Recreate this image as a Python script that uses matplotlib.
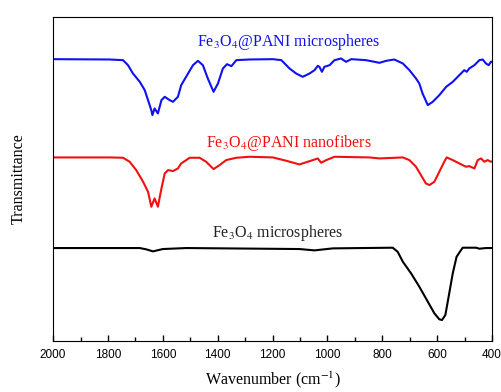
"""FTIR spectra: Fe3O4, Fe3O4@PANI nanofibers, Fe3O4@PANI microspheres"""
import numpy as np
import matplotlib
matplotlib.use('Agg')
import matplotlib.pyplot as plt
from matplotlib.ticker import MultipleLocator

plt.rcParams['font.family'] = ['Liberation Serif', 'DejaVu Serif']
plt.rcParams['mathtext.fontset'] = 'stix'

# ── data (wavenumber cm-1, transmittance a.u., curves already stacked) ──
wn_blue = [2000, 1794, 1745, 1727, 1709, 1684, 1666, 1654, 1642, 1638, 1630,
           1618, 1605, 1593, 1575, 1563, 1545, 1533, 1508, 1490, 1472, 1454,
           1436, 1415, 1399, 1381, 1366, 1350, 1332, 1284, 1199, 1168, 1138,
           1114, 1090, 1065, 1047, 1035, 1029, 1020, 1011, 992, 974, 950, 932,
           913, 859, 822, 810, 786, 756, 725, 701, 677, 665, 653, 634, 616,
           592, 567, 543, 519, 501, 492, 483, 464, 446, 434, 422, 412, 404, 400]
t_blue = [8.45, 8.44, 8.42, 8.27, 8.02, 7.77, 7.52, 7.22, 6.92, 6.77, 6.97,
          6.82, 7.22, 7.32, 7.22, 7.17, 7.32, 7.67, 8.02, 8.27, 8.40, 8.27,
          7.87, 7.47, 7.72, 8.17, 8.30, 8.24, 8.42, 8.44, 8.45, 8.42, 8.17,
          8.02, 7.92, 8.02, 8.12, 8.25, 8.22, 8.07, 8.22, 8.27, 8.42, 8.47,
          8.37, 8.45, 8.42, 8.36, 8.34, 8.40, 8.44, 8.32, 8.12, 7.87, 7.72,
          7.42, 7.07, 7.17, 7.37, 7.62, 7.77, 7.97, 8.12, 8.07, 8.17, 8.27,
          8.42, 8.44, 8.32, 8.27, 8.37, 8.37]

wn_red = [2000, 1794, 1745, 1721, 1697, 1672, 1654, 1642, 1630, 1618, 1605,
          1593, 1581, 1563, 1545, 1533, 1502, 1466, 1442, 1415, 1393, 1369,
          1332, 1284, 1199, 1150, 1102, 1053, 1035, 1023, 1004, 974, 847, 810,
          725, 701, 677, 659, 641, 628, 610, 592, 574, 565, 543, 519, 495,
          483, 464, 452, 440, 428, 416, 404, 400]
t_red = [5.50, 5.50, 5.49, 5.37, 5.12, 4.77, 4.47, 4.02, 4.27, 4.02, 4.57,
         5.02, 5.12, 5.09, 5.17, 5.32, 5.49, 5.49, 5.37, 5.15, 5.27, 5.42,
         5.49, 5.52, 5.50, 5.40, 5.29, 5.42, 5.47, 5.34, 5.42, 5.52, 5.50,
         5.47, 5.50, 5.42, 5.22, 4.97, 4.72, 4.67, 4.77, 5.07, 5.37, 5.50,
         5.42, 5.32, 5.22, 5.24, 5.17, 5.42, 5.47, 5.37, 5.42, 5.37, 5.38]

wn_black = [2000, 1684, 1660, 1636, 1600, 1514, 1102, 1047, 980, 762, 744,
            725, 695, 665, 634, 610, 592, 582, 570, 558, 543, 529, 507, 458,
            446, 422, 404, 400]
t_black = [2.78, 2.78, 2.74, 2.68, 2.75, 2.78, 2.75, 2.71, 2.77, 2.79, 2.67,
           2.37, 2.02, 1.62, 1.17, 0.82, 0.64, 0.62, 0.77, 1.32, 2.02, 2.52,
           2.79, 2.79, 2.76, 2.78, 2.78, 2.78]

labels = ['Fe$_3$O$_4$@PANI microspheres', 'Fe$_3$O$_4$@PANI nanofibers',
          'Fe$_3$O$_4$ microspheres']
xticks = [2000, 1800, 1600, 1400, 1200, 1000, 800, 600, 400]

fig = plt.figure(figsize=(5.01, 3.92), dpi=100)
ax = fig.add_axes([0.106, 0.131, 0.876, 0.826])

ax.plot(wn_blue, t_blue, color='#1010f0', lw=1.5, solid_joinstyle='round')
ax.plot(wn_red, t_red, color='#f01010', lw=1.5, solid_joinstyle='round')
ax.plot(wn_black, t_black, color='black', lw=1.5, solid_joinstyle='round')

ax.text(1140, 8.97, labels[0], color='#1010f0', fontsize=11.5, ha='center', va='center')
ax.text(1142, 5.94, labels[1], color='#f01010', fontsize=11.5, ha='center', va='center')
ax.text(1183, 3.22, labels[2], color='#222222', fontsize=11.5, ha='center', va='center')

ax.set_xlim(2000, 400)
ax.set_ylim(0, 9.72)
ax.set_xticks(xticks)
ax.set_xticklabels([str(v) for v in xticks], family='Liberation Sans', fontsize=8.5)
ax.xaxis.set_minor_locator(MultipleLocator(100))
ax.tick_params(axis='x', which='both', direction='in', top=False, pad=6)
ax.tick_params(axis='x', which='major', length=4, width=1)
ax.tick_params(axis='x', which='minor', length=3, width=1)
ax.set_yticks([])
ax.set_xlabel('Wavenumber (cm$^{-1}$)', fontsize=11.5, labelpad=6)
ax.set_ylabel('Transmittance', fontsize=11.5, labelpad=19)

plt.savefig('out.png', dpi=100)
